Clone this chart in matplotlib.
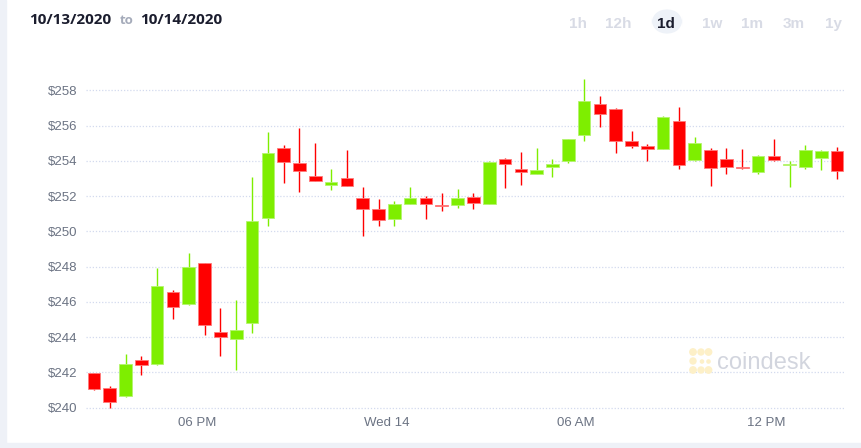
import numpy as np
import pandas as pd
import matplotlib
matplotlib.use("Agg")
import matplotlib.pyplot as plt
import matplotlib.dates as mdates
from matplotlib.patches import Rectangle, FancyBboxPatch, Ellipse

# 30 min candles, 10/13 14:30 -> 10/14 14:30 (centred in each slot)
times = pd.date_range("2020-10-13 14:45", periods=48, freq="30min")

opens = [241.96, 241.13, 240.64, 242.70, 242.45, 246.57, 245.89, 248.19, 244.28, 243.89,
         244.83, 250.75, 254.75, 253.85, 253.13, 252.62, 253.00, 251.89, 251.25, 250.72,
         251.58, 251.87, 251.49, 251.49, 251.94, 251.58, 254.08, 253.51, 253.26, 253.66,
         254.00, 255.49, 257.21, 256.96, 255.15, 254.83, 254.70, 256.25, 254.04, 254.60,
         254.08, 253.64, 253.38, 254.25, 253.74, 253.66, 254.15, 254.55]
closes = [241.06, 240.32, 242.45, 242.40, 246.91, 245.72, 248.00, 244.68, 244.02, 244.42,
          250.57, 254.45, 253.96, 253.43, 252.87, 252.81, 252.60, 251.25, 250.62, 251.58,
          251.89, 251.53, 251.45, 251.87, 251.62, 253.96, 253.83, 253.38, 253.47, 253.83,
          255.23, 257.38, 256.66, 255.15, 254.85, 254.68, 256.51, 253.75, 255.00, 253.60,
          253.66, 253.58, 254.30, 254.04, 253.76, 254.64, 254.58, 253.43]
highs = [241.98, 241.20, 243.06, 242.91, 247.92, 246.68, 248.79, 248.20, 245.64, 246.11,
         253.09, 255.62, 254.89, 255.87, 255.00, 253.51, 254.64, 252.49, 251.81, 251.74,
         252.49, 252.00, 252.17, 252.43, 252.17, 254.00, 254.15, 254.49, 254.72, 254.08,
         255.26, 258.62, 257.66, 257.00, 255.68, 254.96, 256.55, 257.04, 255.36, 254.75,
         254.74, 254.66, 254.33, 255.23, 254.00, 254.91, 254.60, 254.79]
lows = [241.02, 239.98, 240.60, 241.83, 242.40, 245.04, 245.85, 244.13, 242.91, 242.11,
        244.23, 250.30, 252.72, 252.26, 252.85, 252.34, 252.58, 249.75, 250.30, 250.30,
        251.55, 250.68, 251.17, 251.34, 251.25, 251.55, 252.47, 252.64, 253.23, 253.08,
        253.85, 255.13, 255.92, 254.42, 254.74, 254.00, 254.66, 253.51, 254.00, 252.60,
        253.26, 253.53, 253.23, 254.00, 252.49, 253.55, 253.47, 252.96]

price_ticks = [240, 242, 244, 246, 248, 250, 252, 254, 256, 258]
time_ticks = ["2020-10-13 18:00", "2020-10-14 00:00", "2020-10-14 06:00", "2020-10-14 12:00"]
time_labels = ["06 PM", "Wed 14", "06 AM", "12 PM"]
ranges = ["1h", "12h", "1d", "1w", "1m", "3m", "1y"]

W, H = 861, 448
GREEN = "#7eee00"
RED = "#ff0000"
TICK = "#6b7383"

o = np.array(opens)
c = np.array(closes)
x = mdates.date2num(times)
up = c >= o
cols = np.where(up, GREEN, RED)
edges = np.where(up, "#b4f46e", "#ff7a7a")
body_h = np.maximum(np.abs(c - o), 0.07)
body_b = np.minimum(o, c)

fig = plt.figure(figsize=(W / 100, H / 100), dpi=100)
fig.patch.set_facecolor("white")

# grey frame of the page
fig.add_artist(Rectangle((0, 0), 6 / W, 1, transform=fig.transFigure, color="#eef1f7", zorder=0))
fig.add_artist(Rectangle((0, 0), 1, 5 / H, transform=fig.transFigure, color="#eef1f7", zorder=0))

ax = fig.add_axes([86 / W, 1 - 411 / H, (845 - 86) / W, (411 - 72) / H])
ax.set_facecolor("none")

ax.vlines(x, lows, highs, colors=cols, linewidth=1.0, zorder=2)
ax.bar(x, body_h, bottom=body_b, width=0.4 / 24, color=cols, edgecolor=edges,
       linewidth=0.6, zorder=3)

ax.set_xlim(mdates.date2num(pd.Timestamp("2020-10-13 14:30")),
            mdates.date2num(pd.Timestamp("2020-10-14 14:30")))
ax.set_ylim(239.81, 259.04)

ax.set_yticks(price_ticks)
ax.set_yticklabels(["$%d" % p for p in price_ticks])
ax.set_xticks(mdates.date2num(pd.to_datetime(time_ticks)))
ax.set_xticklabels(time_labels)
ax.tick_params(axis="y", length=0, pad=6.5, labelsize=9.5, labelcolor=TICK)
ax.tick_params(axis="x", length=0, pad=4.3, labelsize=9.5, labelcolor=TICK)
for lab in ax.get_xticklabels() + ax.get_yticklabels():
    lab.set_fontfamily("Liberation Sans")

ax.grid(axis="y", color="#d3daee", linestyle=(0, (1, 1.5)), linewidth=0.9, zorder=0)
for s in ax.spines.values():
    s.set_visible(False)

# header
fig.text(29 / W, 1 - 24 / H, "10/13/2020", fontsize=11, fontweight="bold",
         family="Open Sans", color="#1b1d2e", va="baseline")
fig.text(120 / W, 1 - 24 / H, "to", fontsize=9.5, fontweight="bold",
         family="Open Sans", color="#a5abba", va="baseline")
fig.text(140 / W, 1 - 24 / H, "10/14/2020", fontsize=11, fontweight="bold",
         family="Open Sans", color="#1b1d2e", va="baseline")

# range buttons
fig.add_artist(FancyBboxPatch((653 / W, 1 - 32 / H), 28 / W, 21 / H,
                              boxstyle="round,pad=0.002,rounding_size=0.02",
                              transform=fig.transFigure, facecolor="#eef2f8",
                              edgecolor="none", mutation_aspect=W / H))
centers = [578, 618, 666, 712, 752, 793.5, 833]
for r, cx in zip(ranges, centers):
    fig.text(cx / W, 1 - 28.3 / H, r, fontsize=11, fontweight="bold",
             family="Liberation Sans", ha="center", va="baseline",
             color="#1b1d2e" if r == "1d" else "#d8dbe5")

# coindesk watermark
logo_col = "#fdf0c8"
for (px, py, rr) in [(693, 352, 3.2), (701, 352, 3.0), (708.5, 352, 3.2),
                     (693, 361, 3.0), (693, 370, 3.2), (701, 370, 3.0),
                     (708.5, 370, 3.2), (708.5, 361.5, 1.6), (702, 361.5, 1.6)]:
    fig.add_artist(Ellipse((px / W, 1 - py / H), 2 * rr / W, 2 * rr / H,
                           transform=fig.transFigure, color=logo_col, zorder=1))
fig.text(717 / W, 1 - 369 / H, "coindesk", fontsize=17, family="Liberation Sans",
         color="#d2d5de", va="baseline", zorder=1)

plt.savefig("out.png", dpi=100)
